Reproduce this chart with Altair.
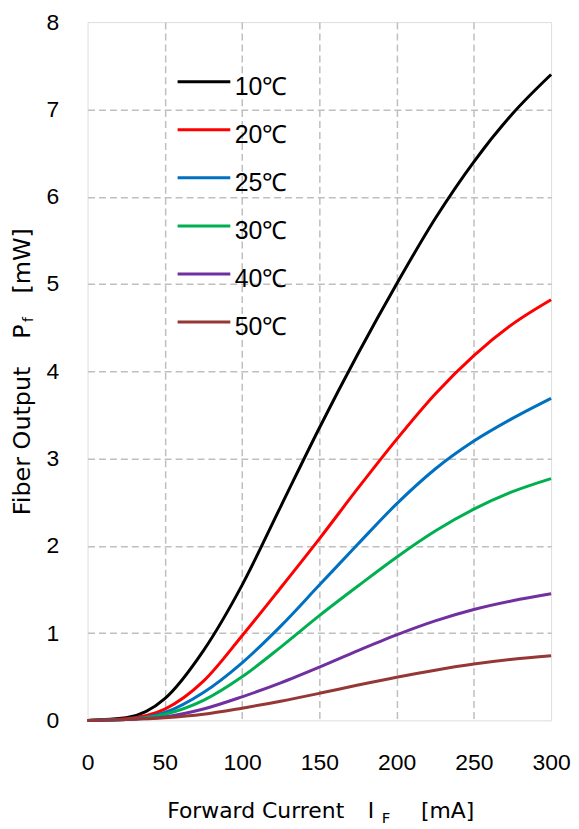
import altair as alt
import pandas as pd

# ---- data ----
current_ma = [0, 25, 50, 75, 100, 125, 150, 175, 200, 225, 250, 275, 300]
series_labels = ["10℃", "20℃", "25℃", "30℃", "40℃", "50℃"]
series_colors = ["#000000", "#FF0000", "#0070C0", "#00B050", "#7030A0", "#953735"]
p_10 = [0, 0.03, 0.25, 0.80, 1.55, 2.45, 3.35, 4.20, 5.00, 5.75, 6.40, 6.95, 7.40]
p_20 = [0, 0.02, 0.13, 0.45, 0.97, 1.52, 2.08, 2.66, 3.22, 3.74, 4.18, 4.54, 4.82]
p_25 = [0, 0.01, 0.09, 0.32, 0.66, 1.08, 1.55, 2.02, 2.48, 2.88, 3.20, 3.46, 3.69]
p_30 = [0, 0.01, 0.07, 0.23, 0.50, 0.84, 1.20, 1.54, 1.87, 2.17, 2.42, 2.62, 2.77]
p_40 = [0, 0.01, 0.04, 0.13, 0.27, 0.43, 0.61, 0.80, 0.98, 1.14, 1.27, 1.37, 1.45]
p_50 = [0, 0.01, 0.03, 0.07, 0.14, 0.22, 0.31, 0.405, 0.495, 0.575, 0.645, 0.70, 0.74]
x_ticks = [0, 50, 100, 150, 200, 250, 300]
y_ticks = [0, 1, 2, 3, 4, 5, 6, 7, 8]

rows = []
for lab, vals in zip(series_labels, [p_10, p_20, p_25, p_30, p_40, p_50]):
    for xv, yv in zip(current_ma, vals):
        rows.append({"I": xv, "P": yv, "T": lab})
df = pd.DataFrame(rows)

tick_font = "Liberation Sans, Arial, sans-serif"
title_font = "DejaVu Sans, Verdana, sans-serif"
grid_hide_x = alt.condition("datum.value === 0 || datum.value === 300", alt.value(0), alt.value(1))
grid_hide_y = alt.condition("datum.value === 0 || datum.value === 8", alt.value(0), alt.value(1))

W, H = 466, 702

lines = alt.Chart(df).mark_line(strokeWidth=3, interpolate="monotone").encode(
    x=alt.X("I:Q", scale=alt.Scale(domain=[0, 300], nice=False, zero=False),
            axis=alt.Axis(values=x_ticks, title=None, grid=True, ticks=False, tickSize=0,
                          domain=False, labelPadding=31, labelFontSize=23, labelFont=tick_font,
                          labelColor="black", labelFlush=False, labelOverlap=False,
                          gridDash=[7, 4], gridColor="#BFBFBF", gridWidth=1.5,
                          gridOpacity=grid_hide_x)),
    y=alt.Y("P:Q", scale=alt.Scale(domain=[0, 8], nice=False),
            axis=alt.Axis(values=y_ticks, title=None, grid=True, ticks=False, tickSize=0,
                          domain=False, labelPadding=29, labelFontSize=23, labelFont=tick_font,
                          labelColor="black", labelFlush=False, labelOverlap=False,
                          gridDash=[7, 4], gridColor="#BFBFBF", gridWidth=1.5,
                          gridOpacity=grid_hide_y)),
    color=alt.Color("T:N", sort=series_labels,
                    scale=alt.Scale(domain=series_labels, range=series_colors),
                    legend=alt.Legend(orient="none", legendX=89, legendY=37, title=None,
                                      symbolType="M-1,-0.19L1,-0.19", symbolSize=2809,
                                      symbolStrokeWidth=3, labelFontSize=25, labelFont=tick_font,
                                      labelColor="black", labelOffset=3, rowPadding=7.3,
                                      padding=0, labelBaseline="middle")),
)


def label(txt, x, y, size, angle=0, font=title_font):
    return alt.Chart(pd.DataFrame({"t": [txt]})).mark_text(
        align="center", baseline="alphabetic", fontSize=size, font=font,
        angle=angle, color="black"
    ).encode(x=alt.value(x), y=alt.value(y), text="t:N")


titles = [
    label("Forward Current", 169, 800, 22),
    label("I", 285, 800, 22),
    label("F", 300, 805, 15),
    label("[mA]", 362, 800, 22),
    label("Fiber Output", -57.5, 421, 24, 270),
    label("P", -57.5, 311, 24, 270),
    label("f", -54.5, 299, 14, 270),
    label("[mW]", -57.5, 240, 24, 270),
]

chart = alt.layer(lines, *titles).properties(
    width=W, height=H,
    autosize=alt.AutoSizeParams(type="none"),
    padding={"left": 80, "top": 12, "right": 20, "bottom": 105},
).configure_view(stroke="black", strokeWidth=2).configure(background="white")

chart.save("out.html", embed_options={"renderer": "svg", "actions": False})
